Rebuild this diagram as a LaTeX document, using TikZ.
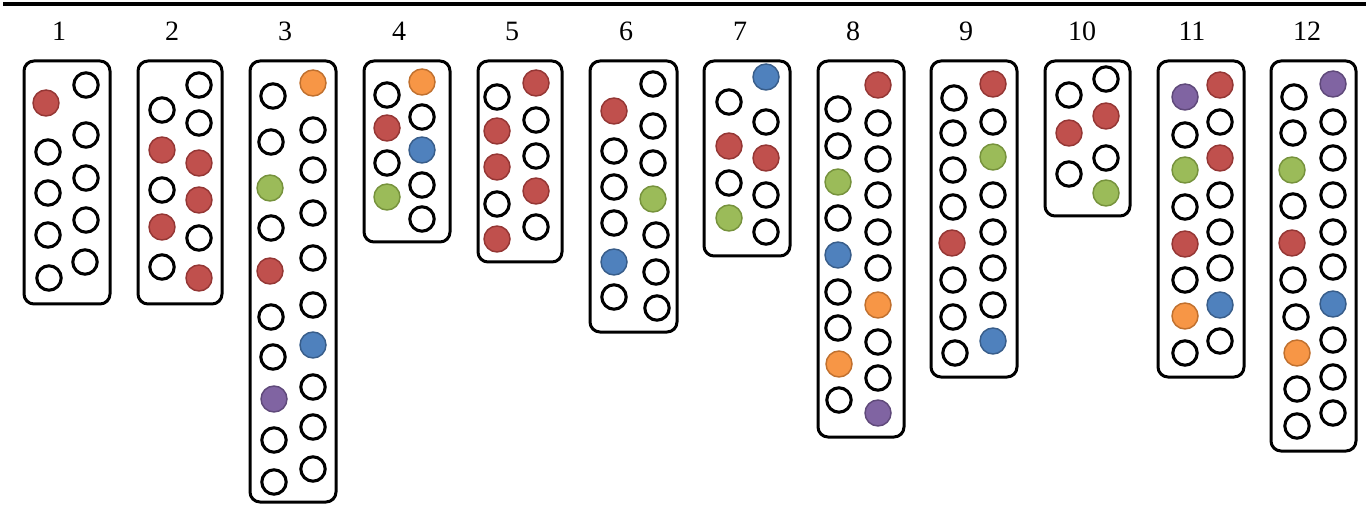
\documentclass[tikz,border=0pt]{standalone}
\usepackage{fontspec}
\setmainfont{Liberation Serif}
\definecolor{redF}{HTML}{C0504D}\definecolor{redD}{HTML}{943634}
\definecolor{grnF}{HTML}{9BBB59}\definecolor{grnD}{HTML}{76923C}
\definecolor{bluF}{HTML}{4F81BD}\definecolor{bluD}{HTML}{385D8A}
\definecolor{orgF}{HTML}{F79646}\definecolor{orgD}{HTML}{C0702E}
\definecolor{purF}{HTML}{8064A2}\definecolor{purD}{HTML}{5F497A}
\tikzset{
  boxst/.style={draw=black,line width=2.25pt,rounded corners=7.5pt},
  dotbase/.style={circle,inner sep=0pt,outer sep=0pt},
  dotW/.style={dotbase,minimum size=18.3pt,draw=black,line width=2.3pt,fill=white},
  dotfill/.style={dotbase,minimum size=19.5pt,line width=1.1pt},
  dotR/.style={dotfill,fill=redF,draw=redD},
  dotG/.style={dotfill,fill=grnF,draw=grnD},
  dotB/.style={dotfill,fill=bluF,draw=bluD},
  dotO/.style={dotfill,fill=orgF,draw=orgD},
  dotP/.style={dotfill,fill=purF,draw=purD},
  numst/.style={font=\fontsize{21pt}{24pt}\selectfont,inner sep=0pt}
}
\begin{document}
\begin{tikzpicture}[x=0.75pt,y=-0.75pt]
\useasboundingbox (0,0) rectangle (1372,506);
\coordinate (ruleL) at (3,4);
\coordinate (ruleR) at (1366,4);
\draw[line width=3pt] (ruleL) -- (ruleR);
% numbers
\foreach \n/\x in {1/59,2/172,3/285,4/399,5/512,6/626,7/740,8/853,9/966,10/1082,11/1192,12/1307}
  \node[numst] (num\n) at (\x,31) {\n};
% boxes
\draw[boxst] (24,61) rectangle (110,304);
\draw[boxst] (138,61) rectangle (222,304);
\draw[boxst] (250,61) rectangle (336,502);
\draw[boxst] (364,61) rectangle (450,242);
\draw[boxst] (478,61) rectangle (562,262);
\draw[boxst] (590,61) rectangle (677,332);
\draw[boxst] (704,61) rectangle (790,256);
\draw[boxst] (818,61) rectangle (904,437);
\draw[boxst] (931,61) rectangle (1017,377);
\draw[boxst] (1045,61) rectangle (1130,216);
\draw[boxst] (1158,61) rectangle (1244,377);
\draw[boxst] (1271,61) rectangle (1356,451);
% box 1
\foreach \s/\x/\y [count=\i] in {dotR/46/103,dotW/48/152,dotW/48/193,dotW/48/235,dotW/49/278,
  dotW/86/85,dotW/86/135,dotW/86/178,dotW/86/220,dotW/85/262}
  \node[\s] (a\i) at (\x,\y) {};
% box 2
\foreach \s/\x/\y [count=\i] in {dotW/162/110,dotR/162/150,dotW/162/190,dotR/162/227,dotW/162/267,
  dotW/199/85,dotW/199/123,dotR/199/163,dotR/199/200,dotW/199/238,dotR/199/278}
  \node[\s] (b\i) at (\x,\y) {};
% box 3
\foreach \s/\x/\y [count=\i] in {dotW/273/96,dotW/271/142,dotG/270/188,dotW/271/228,dotR/270/271,dotW/271/317,dotW/273/357,dotP/274/399,dotW/274/440,dotW/274/482,
  dotO/313/83,dotW/313/130,dotW/313/170,dotW/313/213,dotW/313/258,dotW/313/305,dotB/313/345,dotW/313/387,dotW/313/427,dotW/313/469}
  \node[\s] (c\i) at (\x,\y) {};
% box 4
\foreach \s/\x/\y [count=\i] in {dotW/387/95,dotR/387/128,dotW/387/163,dotG/387/197,
  dotO/422/82,dotW/422/117,dotB/422/150,dotW/422/185,dotW/422/219}
  \node[\s] (d\i) at (\x,\y) {};
% box 5
\foreach \s/\x/\y [count=\i] in {dotW/497/97,dotR/497/131,dotR/497/167,dotW/497/204,dotR/497/239,
  dotR/536/83,dotW/536/120,dotW/536/156,dotR/536/191,dotW/536/227}
  \node[\s] (e\i) at (\x,\y) {};
% box 6
\foreach \s/\x/\y [count=\i] in {dotR/614/111,dotW/614/151,dotW/614/187,dotW/614/223,dotB/614/262,dotW/614/297,
  dotW/653/84,dotW/653/126,dotW/653/163,dotG/653/199,dotW/656/235,dotW/656/272,dotW/657/308}
  \node[\s] (f\i) at (\x,\y) {};
% box 7
\foreach \s/\x/\y [count=\i] in {dotW/729/102,dotR/729/146,dotW/729/183,dotG/729/218,
  dotB/766/77,dotW/766/122,dotR/766/158,dotW/766/195,dotW/766/232}
  \node[\s] (g\i) at (\x,\y) {};
% box 8
\foreach \s/\x/\y [count=\i] in {dotW/838/109,dotW/838/146,dotG/838/182,dotW/838/218,dotB/838/255,dotW/838/292,dotW/838/328,dotO/839/364,dotW/839/400,
  dotR/878/85,dotW/878/123,dotW/878/159,dotW/878/195,dotW/878/232,dotW/878/268,dotO/878/305,dotW/878/342,dotW/878/378,dotP/878/413}
  \node[\s] (h\i) at (\x,\y) {};
% box 9
\foreach \s/\x/\y [count=\i] in {dotW/954/98,dotW/953/133,dotW/953/170,dotW/953/207,dotR/952/243,dotW/953/280,dotW/953/317,dotW/955/353,
  dotR/993/84,dotW/993/122,dotG/993/157,dotW/993/195,dotW/993/232,dotW/993/268,dotW/993/305,dotB/993/341}
  \node[\s] (k\i) at (\x,\y) {};
% box 10
\foreach \s/\x/\y [count=\i] in {dotW/1069/95,dotR/1069/133,dotW/1069/174,
  dotW/1106/79,dotR/1106/116,dotW/1106/158,dotG/1106/193}
  \node[\s] (m\i) at (\x,\y) {};
% box 11
\foreach \s/\x/\y [count=\i] in {dotP/1185/97,dotW/1185/135,dotG/1185/170,dotW/1185/207,dotR/1185/244,dotW/1185/280,dotO/1185/316,dotW/1185/353,
  dotR/1220/85,dotW/1220/122,dotR/1220/158,dotW/1220/195,dotW/1220/232,dotW/1220/268,dotB/1220/305,dotW/1220/341}
  \node[\s] (p\i) at (\x,\y) {};
% box 12
\foreach \s/\x/\y [count=\i] in {dotW/1294/97,dotW/1293/133,dotG/1292/170,dotW/1293/206,dotR/1292/243,dotW/1293/280,dotW/1296/317,dotO/1297/353,dotW/1297/389,dotW/1297/426,
  dotP/1333/84,dotW/1333/122,dotW/1333/158,dotW/1333/195,dotW/1333/232,dotW/1333/267,dotB/1333/304,dotW/1333/340,dotW/1333/377,dotW/1333/413}
  \node[\s] (q\i) at (\x,\y) {};
\end{tikzpicture}
\end{document}
